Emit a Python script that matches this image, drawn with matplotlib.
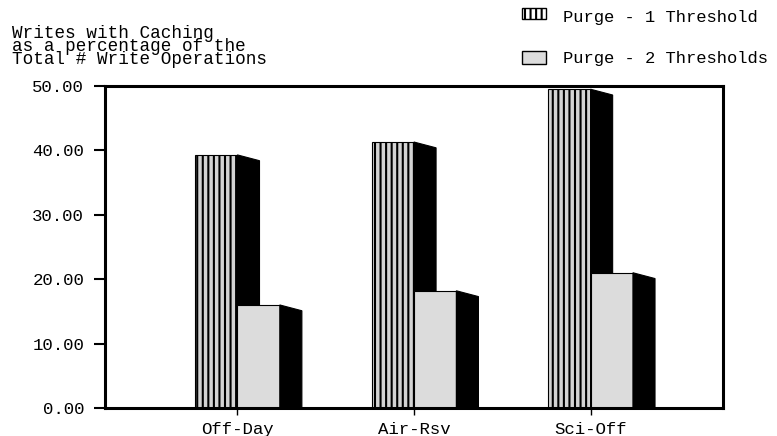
import numpy as np
import matplotlib.pyplot as plt
from matplotlib.patches import Polygon, Rectangle

categories = ['Off-Day', 'Air-Rsv', 'Sci-Off']
one_threshold = [39.3, 41.3, 49.5]
two_thresholds = [16.0, 18.2, 21.0]
series_labels = ['Purge - 1 Threshold', 'Purge - 2 Thresholds']
y_ticks = [0, 10, 20, 30, 40, 50]
title_lines = ['Writes with Caching', 'as a percentage of the', 'Total # Write Operations']

plt.rcParams['font.family'] = ['Liberation Mono', 'DejaVu Sans Mono']
plt.rcParams['hatch.linewidth'] = 1.5
plt.rcParams['hatch.color'] = 'black'

W, H = 777, 436
fig = plt.figure(figsize=(W / 100, H / 100), dpi=100)
ax = fig.add_axes([105 / W, 1 - 408 / H, (723 - 105) / W, (408 - 86) / H])

width = 0.24   # bar face width
depth = 0.125  # side face depth
drop = 0.9     # slant of the side face top
x = np.arange(len(categories))


def bar3d(left, heights, face, hatch, z):
    ax.bar(left, heights, width, align='edge', color=face, edgecolor='black',
           linewidth=0.8, hatch=hatch, zorder=z)
    for xl, h in zip(left, heights):
        xr = xl + width
        side = Polygon([(xr, 0), (xr, h), (xr + depth, h - drop), (xr + depth, 0)],
                       closed=True, facecolor='black', edgecolor='black',
                       linewidth=0.8, zorder=z)
        ax.add_patch(side)


bar3d(x - width, one_threshold, '#d4d4d4', '|||', 2)
bar3d(x, two_thresholds, '#dcdcdc', None, 3)

ax.set_xlim(-0.75, 2.75)
ax.set_ylim(0, 50)
ax.set_yticks(y_ticks)
ax.set_yticklabels(['%.2f' % v for v in y_ticks])
ax.set_xticks(x)
ax.set_xticklabels(categories)
for s in ax.spines.values():
    s.set_linewidth(2.2)
    s.set_zorder(5)
ax.tick_params(axis='y', length=8, width=1.5, pad=7, labelsize=12.5)
ax.tick_params(axis='x', length=5, width=1, pad=5, labelsize=12.5)

# title block, lines packed tightly
fig.text(12 / W, 1 - 64.3 / H, '\n'.join(title_lines), fontsize=12.7,
         va='baseline', ha='left', linespacing=0.72)

# legend
legend_boxes = [(8, 19), (51, 64)]
legend_faces = ['white', '#dcdcdc']
legend_hatches = ['|||', None]
legend_base = [22, 63]
for label, (top, bot), face, hatch, base in zip(series_labels, legend_boxes,
                                                legend_faces, legend_hatches, legend_base):
    fig.add_artist(Rectangle((522 / W, 1 - bot / H), 24 / W, (bot - top) / H,
                             transform=fig.transFigure, facecolor=face,
                             edgecolor='black', linewidth=1, hatch=hatch))
    fig.text(563 / W, 1 - base / H, label, fontsize=12.3, va='baseline', ha='left')

fig.savefig('out.png', dpi=100)
